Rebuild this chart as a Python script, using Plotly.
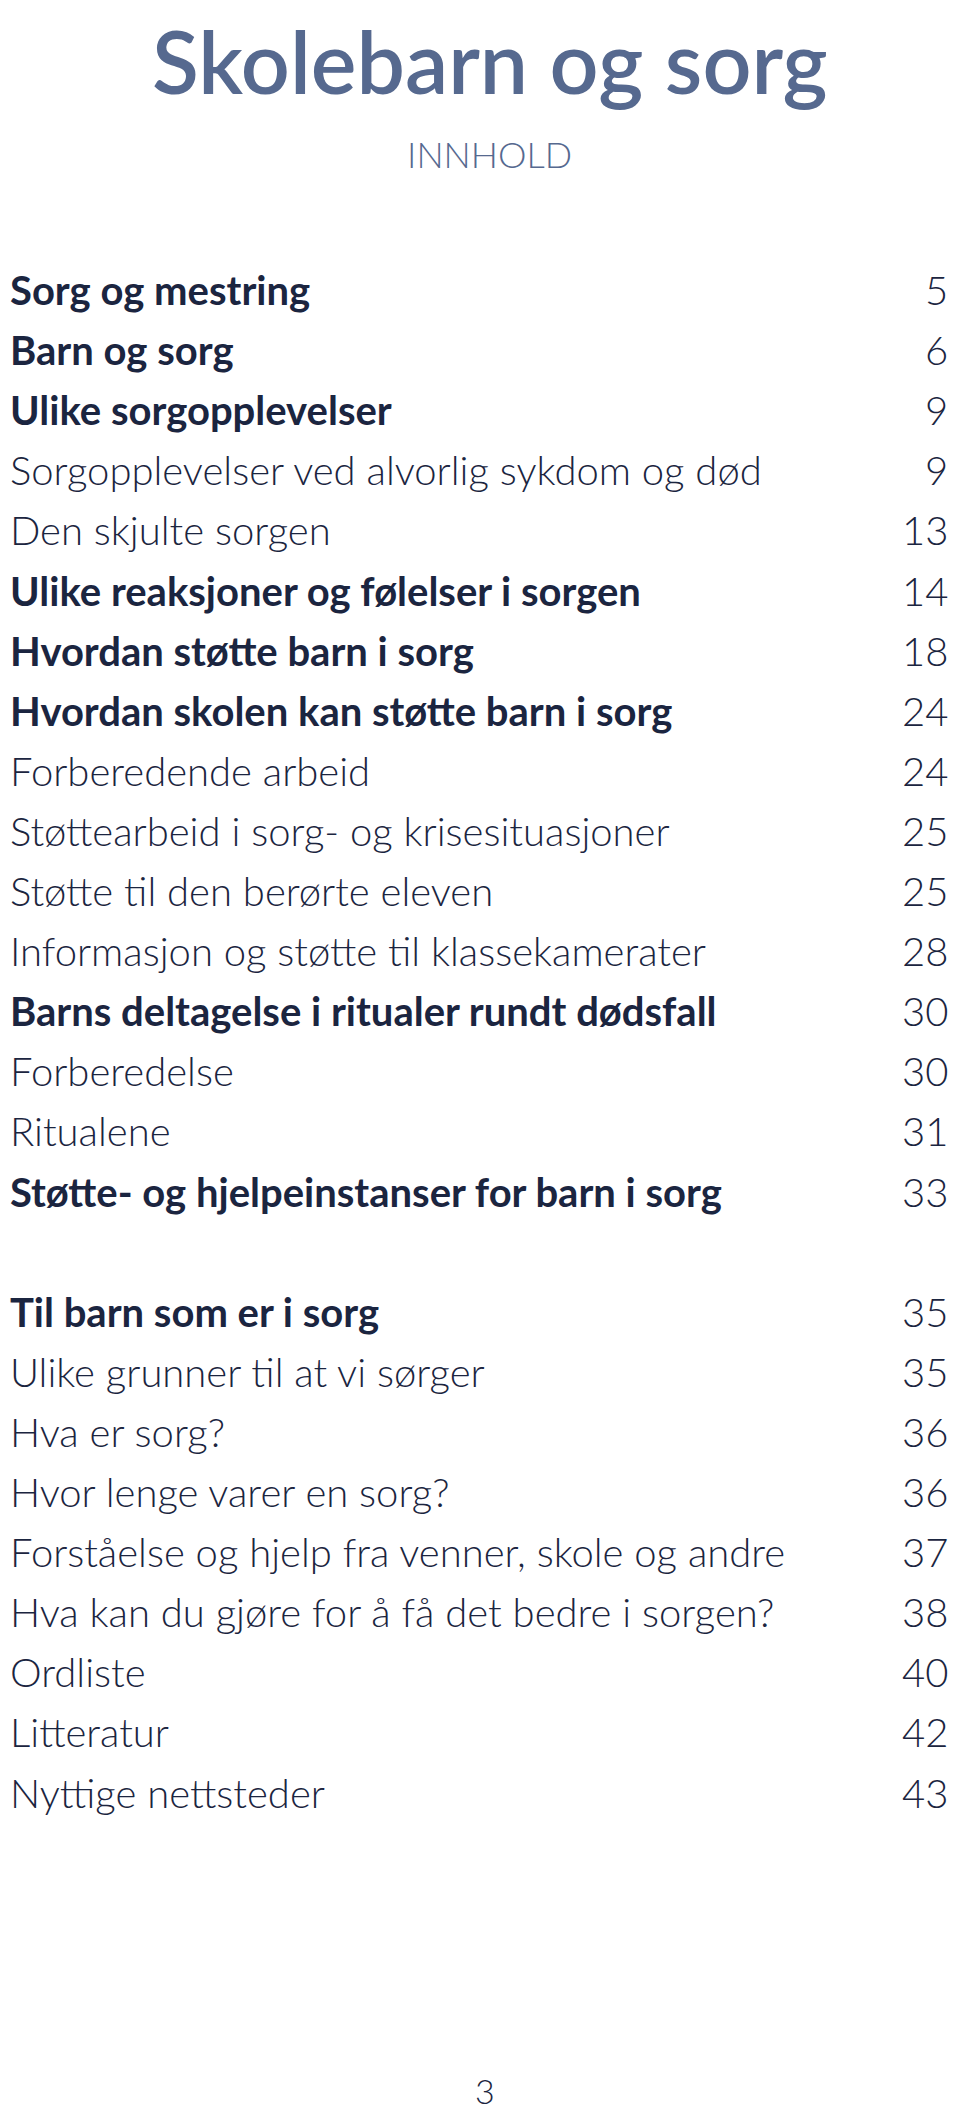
import plotly.graph_objects as go

W, H = 960, 2107

doc_title = "Skolebarn og sorg"
subtitle = "INNHOLD"
page_number = "3"

# Table of contents entries (None = blank spacer row)
entries = [
    "Sorg og mestring",
    "Barn og sorg",
    "Ulike sorgopplevelser",
    "Sorgopplevelser ved alvorlig sykdom og død",
    "Den skjulte sorgen",
    "Ulike reaksjoner og følelser i sorgen",
    "Hvordan støtte barn i sorg",
    "Hvordan skolen kan støtte barn i sorg",
    "Forberedende arbeid",
    "Støttearbeid i sorg- og krisesituasjoner",
    "Støtte til den berørte eleven",
    "Informasjon og støtte til klassekamerater",
    "Barns deltagelse i ritualer rundt dødsfall",
    "Forberedelse",
    "Ritualene",
    "Støtte- og hjelpeinstanser for barn i sorg",
    None,
    "Til barn som er i sorg",
    "Ulike grunner til at vi sørger",
    "Hva er sorg?",
    "Hvor lenge varer en sorg?",
    "Forståelse og hjelp fra venner, skole og andre",
    "Hva kan du gjøre for å få det bedre i sorgen?",
    "Ordliste",
    "Litteratur",
    "Nyttige nettsteder",
]
pages = [5, 6, 9, 9, 13, 14, 18, 24, 24, 25, 25, 28, 30, 30, 31, 33, None,
         35, 35, 36, 36, 37, 38, 40, 42, 43]
bold = [1, 1, 1, 0, 0, 1, 1, 1, 0, 0, 0, 0, 1, 0, 0, 1, None,
        1, 0, 0, 0, 0, 0, 0, 0, 0]

FONT = "Lato"
TITLE_COLOR = "#56698f"
TEXT_COLOR = "#1b2540"

fig = go.Figure()
fig.add_trace(go.Scatter(x=[0, W], y=[0, H], mode="markers",
                         marker=dict(opacity=0), hoverinfo="skip", showlegend=False))

ann = []
ann.append(dict(x=482, y=0, text=doc_title, showarrow=False, xanchor="center", yanchor="top",
                font=dict(family=FONT, size=86, color=TITLE_COLOR, weight=600), yshift=1))
ann.append(dict(x=481, y=146, text=subtitle, showarrow=False, xanchor="center", yanchor="middle",
                font=dict(family=FONT, size=36, color=TITLE_COLOR, weight=300)))

y0, dy = 282, 60.1
for i, (t, p, b) in enumerate(zip(entries, pages, bold)):
    if t is None:
        continue
    y = y0 + dy * i
    ann.append(dict(x=0, y=y, text=t, showarrow=False, xanchor="left", yanchor="middle",
                    font=dict(family=FONT, size=40, color=TEXT_COLOR, weight=700 if b else 300)))
    ann.append(dict(x=942, y=y, text=str(p), showarrow=False, xanchor="right", yanchor="middle",
                    font=dict(family=FONT, size=40, color=TEXT_COLOR, weight=300)))

ann.append(dict(x=477, y=2082, text=page_number, showarrow=False, xanchor="center", yanchor="middle",
                font=dict(family=FONT, size=34, color=TEXT_COLOR, weight=300)))

fig.update_layout(
    width=W, height=H, margin=dict(l=0, r=0, t=0, b=0),
    paper_bgcolor="white", plot_bgcolor="white",
    xaxis=dict(range=[0, W], visible=False, fixedrange=True),
    yaxis=dict(range=[H, 0], visible=False, fixedrange=True),
    annotations=ann, showlegend=False,
)
fig.write_html("out.html")
